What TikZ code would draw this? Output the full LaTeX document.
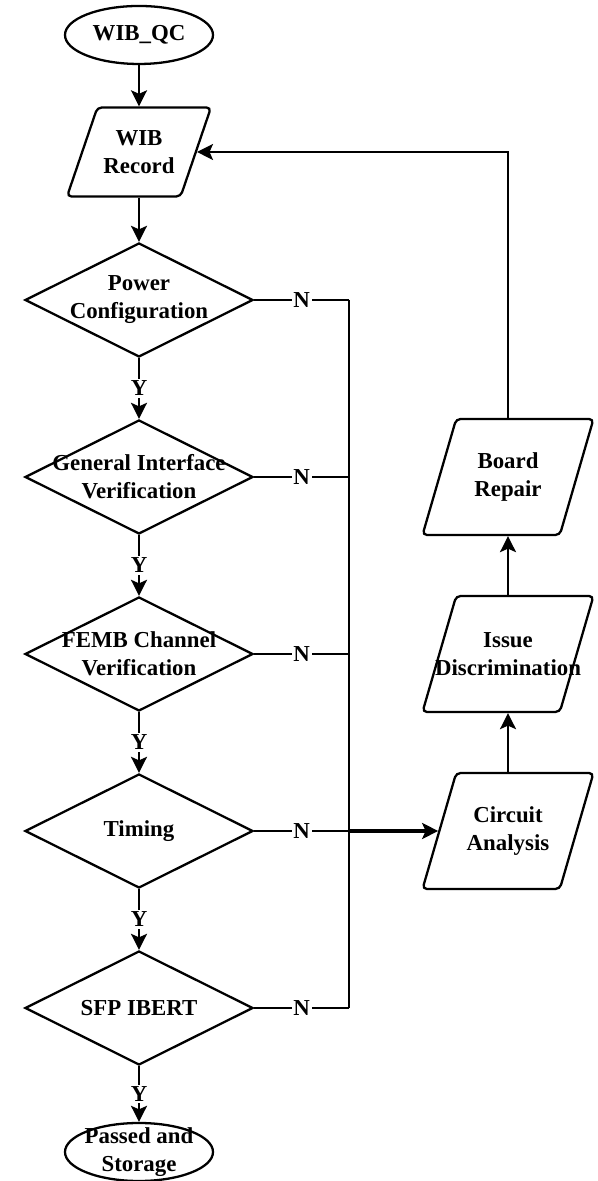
\documentclass[tikz,border=0pt]{standalone}
\usepackage{fontspec}
\setmainfont{Liberation Serif}
\usetikzlibrary{positioning, arrows.meta, shapes.geometric}

\begin{document}
\begin{tikzpicture}[
    every node/.style={font=\fontsize{13}{15.9}\selectfont\bfseries},
    term/.style={draw, ellipse, minimum width=2.96cm, minimum height=1.16cm, inner sep=0pt},
    io/.style={draw, trapezium, trapezium left angle=72, trapezium right angle=108, trapezium stretches=true, rounded corners=2.5pt, minimum width=3.42cm, minimum height=2.32cm, inner sep=2pt},
    decide/.style={draw, diamond, minimum width=4.56cm, minimum height=2.28cm, inner sep=0pt},
    txt/.style={align=center},
    link/.style={line width=1.3pt},
    flow/.style={link, -{Stealth[length=0.32cm, width=0.32cm, inset=0.07cm]}},
    yn/.style={fill=white, inner sep=1pt},
]
\useasboundingbox (0,0) rectangle (11.94,23.62);

% Start and record
\node[term, label={[txt]center:WIB\_QC}, line width=1.3pt] (start) at (2.78, 22.92) {};
\node[io, trapezium left angle=70, trapezium right angle=110, minimum width=2.88cm, minimum height=1.78cm, label={[txt]center:WIB\\Record}, line width=1.3pt] (rec) at (2.78, 20.58) {};

% Checks
\node[decide, label={[txt]center:Power\\Configuration}, line width=1.3pt] (pow) at (2.78, 17.62) {};
\node[decide, label={[txt]center:General Interface\\Verification}, line width=1.3pt] (gen) at (2.78, 14.08) {};
\node[decide, label={[txt]center:FEMB Channel\\Verification}, line width=1.3pt] (femb) at (2.78, 10.54) {};
\node[decide, label={[txt]center:Timing}, line width=1.3pt] (tim) at (2.78, 7.00) {};
\node[decide, label={[txt]center:SFP IBERT}, line width=1.3pt] (sfp) at (2.78, 3.46) {};
\node[term, label={[txt]center:Passed and\\Storage}, line width=1.3pt] (done) at (2.78, 0.58) {};

% Repair loop
\node[io, label={[txt]center:Circuit\\Analysis}, line width=1.3pt] (circ) at (10.16, 7.00) {};
\node[io, label={[txt]center:Issue\\Discrimination}, line width=1.3pt] (iss) at (10.16, 10.54) {};
\node[io, label={[txt]center:Board\\Repair}, line width=1.3pt] (rep) at (10.16, 14.08) {};

% Bus points
\coordinate (b1) at (6.98, 17.62);
\coordinate (b2) at (6.98, 14.08);
\coordinate (b3) at (6.98, 10.54);
\coordinate (b4) at (6.98, 7.00);
\coordinate (b5) at (6.98, 3.46);

% Main flow
\draw[flow] (start) -- (rec);
\draw[flow] (rec) -- (pow);
\draw[flow] (pow) -- node[yn] {Y} (gen);
\draw[flow] (gen) -- node[yn] {Y} (femb);
\draw[flow] (femb) -- node[yn] {Y} (tim);
\draw[flow] (tim) -- node[yn] {Y} (sfp);
\draw[flow] (sfp) -- node[yn] {Y} (done);

% Failures
\draw[link] (pow) -- node[yn] {N} (b1);
\draw[link] (gen) -- node[yn] {N} (b2);
\draw[link] (femb) -- node[yn] {N} (b3);
\draw[link] (tim) -- node[yn] {N} (b4);
\draw[link] (sfp) -- node[yn] {N} (b5);
\draw[link] (b1) -- (b5);
\draw[flow, line width=2.2pt] (b4) -- (circ);

% Repair and back to record
\draw[flow] (circ) -- (iss);
\draw[flow] (iss) -- (rep);
\draw[flow] (rep) |- (rec);
\end{tikzpicture}
\end{document}
